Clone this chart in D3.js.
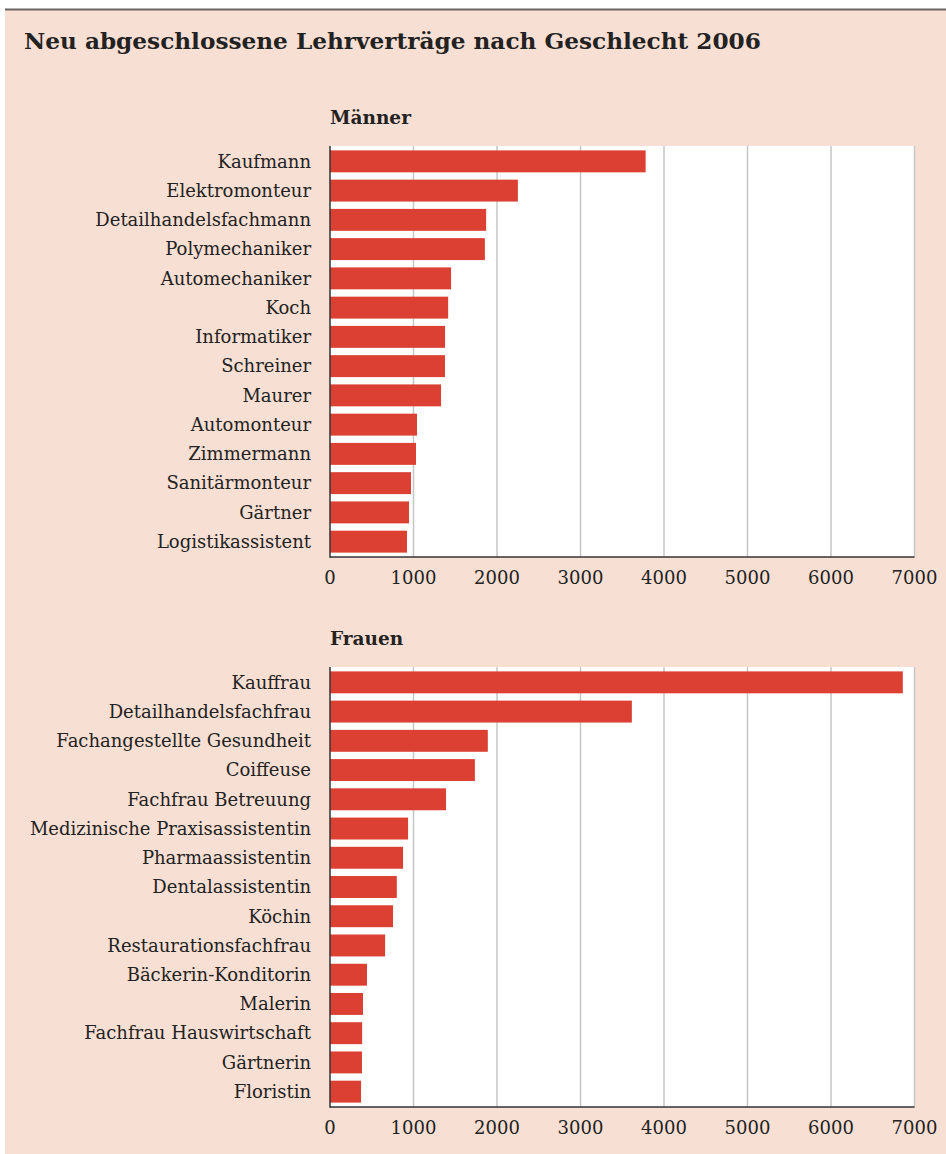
<!DOCTYPE html>
<html>
<head>
<meta charset="utf-8">
<script src="https://cdn.jsdelivr.net/npm/d3@7"></script>
<style>
  body { margin: 0; background: #fff; }
  text { font-family: "DejaVu Serif", serif; fill: #222; }
</style>
</head>
<body>
<div id="chart"></div>
<script>
// values
var menJobs = ["Kaufmann", "Elektromonteur", "Detailhandelsfachmann", "Polymechaniker", "Automechaniker", "Koch",
    "Informatiker", "Schreiner", "Maurer", "Automonteur", "Zimmermann", "Sanitärmonteur", "Gärtner", "Logistikassistent"];
var menValues = [3780, 2250, 1870, 1855, 1450, 1415, 1378, 1377, 1330, 1042, 1030, 970, 946, 922];

var womenJobs = ["Kauffrau", "Detailhandelsfachfrau", "Fachangestellte Gesundheit", "Coiffeuse", "Fachfrau Betreuung",
    "Medizinische Praxisassistentin", "Pharmaassistentin", "Dentalassistentin", "Köchin", "Restaurationsfachfrau",
    "Bäckerin-Konditorin", "Malerin", "Fachfrau Hauswirtschaft", "Gärtnerin", "Floristin"];
var womenValues = [6860, 3615, 1890, 1735, 1390, 935, 875, 800, 755, 660, 443, 395, 385, 383, 372];

var ticks = [0, 1000, 2000, 3000, 4000, 5000, 6000, 7000];

var width = 946, height = 1154;
var svg = d3.select("#chart").append("svg").attr("width", width).attr("height", height);

svg.append("rect").attr("x", 5).attr("y", 10).attr("width", width - 5).attr("height", height - 10).attr("fill", "#f8dfd3");
svg.append("line").attr("x1", 5).attr("x2", width).attr("y1", 9.5).attr("y2", 9.5).attr("stroke", "#6b6363").attr("stroke-width", 2);

svg.append("text").attr("x", 24).attr("y", 49).style("font-size", "23.2px").style("font-weight", "bold")
    .text("Neu abgeschlossene Lehrverträge nach Geschlecht 2006");

var x = d3.scaleLinear().domain([0, 7000]).range([330, 914.5]);

function panel(title, jobs, values, top, bottom, titleY) {
    var g = svg.append("g");
    var y = d3.scaleBand().domain(jobs).range([top, bottom]).paddingInner(0.25).paddingOuter(0.15);

    g.append("text").attr("x", 330).attr("y", titleY).style("font-size", "18.5px").style("font-weight", "bold").text(title);

    g.append("rect").attr("x", x(0)).attr("y", top).attr("width", x(7000) - x(0)).attr("height", bottom - top).attr("fill", "#fff");

    g.selectAll(".grid").data(ticks.slice(1)).enter().append("line")
        .attr("x1", d => x(d)).attr("x2", d => x(d)).attr("y1", top).attr("y2", bottom)
        .attr("stroke", "#c6c6c6").attr("stroke-width", 1.5);

    g.selectAll(".bar").data(values).enter().append("rect")
        .attr("x", x(0)).attr("y", (d, i) => y(jobs[i])).attr("width", d => x(d) - x(0)).attr("height", y.bandwidth())
        .attr("fill", "#db4032");

    g.selectAll(".lab").data(jobs).enter().append("text")
        .attr("x", 311).attr("y", d => y(d) + y.bandwidth() / 2).attr("dy", "0.35em").attr("text-anchor", "end")
        .style("font-size", "18px").text(d => d);

    g.append("line").attr("x1", x(0)).attr("x2", x(0)).attr("y1", top).attr("y2", bottom + 0.75).attr("stroke", "#333").attr("stroke-width", 1.5);
    g.append("line").attr("x1", x(0)).attr("x2", x(7000)).attr("y1", bottom).attr("y2", bottom).attr("stroke", "#333").attr("stroke-width", 1.5);

    g.selectAll(".tick").data(ticks).enter().append("text")
        .attr("x", d => x(d)).attr("y", bottom + 27).attr("text-anchor", "middle")
        .style("font-size", "18px").text(d => d);
}

panel("Männer", menJobs, menValues, 146, 557, 124);
panel("Frauen", womenJobs, womenValues, 667, 1107, 645);
</script>
</body>
</html>
